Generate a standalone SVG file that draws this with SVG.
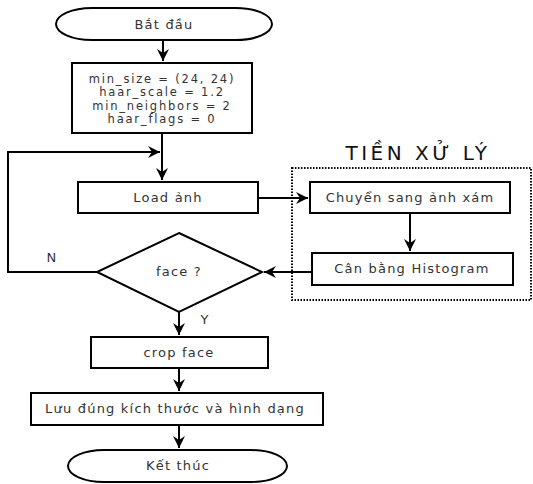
<svg xmlns="http://www.w3.org/2000/svg" width="533" height="484" viewBox="0 0 533 484">
<style>
.s{fill:#fff;stroke:#000;stroke-width:2}
.t{font-family:"DejaVu Sans",Verdana,sans-serif;font-size:13px;letter-spacing:1.2px;fill:#333;text-anchor:middle}
.p{font-size:11.5px;letter-spacing:1.8px}
.c{fill:none;stroke:#000;stroke-width:2}
</style>
<defs>
<marker id="a" markerUnits="userSpaceOnUse" markerWidth="14" markerHeight="14" refX="12" refY="6" orient="auto">
<path d="M0,0 L12,6 L0,12 L4,6 z" fill="#000"/>
</marker>
</defs>
<rect width="533" height="484" fill="#fff"/>
<g id="connectors">
<path class="c" d="M163,40 V61" marker-end="url(#a)"/>
<path class="c" d="M162,133 V180" marker-end="url(#a)"/>
<path class="c" d="M97,272 H8 V152 H160" marker-end="url(#a)"/>
<path class="c" d="M258,198 H308" marker-end="url(#a)"/>
<path class="c" d="M410,213 V251" marker-end="url(#a)"/>
<path class="c" d="M312,272 H264" marker-end="url(#a)"/>
<path class="c" d="M179,312 V335" marker-end="url(#a)"/>
<path class="c" d="M179,368 V391" marker-end="url(#a)"/>
<path class="c" d="M179,425 V448" marker-end="url(#a)"/>
</g>
<g id="start">
<rect class="s" x="56" y="8" width="216" height="32" rx="36" ry="16"/>
<text class="t" x="164" y="29">Bắt đầu</text>
</g>
<g id="params">
<rect class="s" x="72" y="63" width="180" height="70"/>
<text class="t p" x="162" y="82.5">min_size = (24, 24)</text>
<text class="t p" x="162" y="96">haar_scale = 1.2</text>
<text class="t p" x="162" y="109.5">min_neighbors = 2</text>
<text class="t p" x="162" y="123">haar_flags = 0</text>
</g>
<g id="load">
<rect class="s" x="78" y="182" width="180" height="31"/>
<text class="t" x="168" y="202">Load ảnh</text>
</g>
<g id="preprocess">
<rect x="292" y="168" width="239" height="132" fill="none" stroke="#000" stroke-width="2" stroke-dasharray="1.5 1.5"/>
<text x="418" y="160" font-family="'DejaVu Sans',Verdana,sans-serif" font-size="20" letter-spacing="3.5" text-anchor="middle" fill="#111">TIỀN XỬ LÝ</text>
</g>
<g id="gray">
<rect class="s" x="310" y="182" width="200" height="31"/>
<text class="t" x="410" y="202">Chuyển sang ảnh xám</text>
</g>
<g id="hist">
<rect class="s" x="312" y="253" width="201" height="32"/>
<text class="t" x="412" y="273">Cân bằng Histogram</text>
</g>
<g id="decision">
<polygon class="s" points="179,233 262,272 179,312 97,272"/>
<text class="t" x="179" y="276">face ?</text>
<text class="t" x="52" y="262">N</text>
<text class="t" x="205" y="324">Y</text>
</g>
<g id="crop">
<rect class="s" x="91" y="337" width="177" height="31"/>
<text class="t" x="179" y="357">crop face</text>
</g>
<g id="save">
<rect class="s" x="31" y="393" width="292" height="32"/>
<text class="t" x="175" y="413">Lưu đúng kích thước và hình dạng</text>
</g>
<g id="end">
<rect class="s" x="68" y="450" width="219" height="32" rx="36" ry="16"/>
<text class="t" x="178" y="470">Kết thúc</text>
</g>
</svg>
